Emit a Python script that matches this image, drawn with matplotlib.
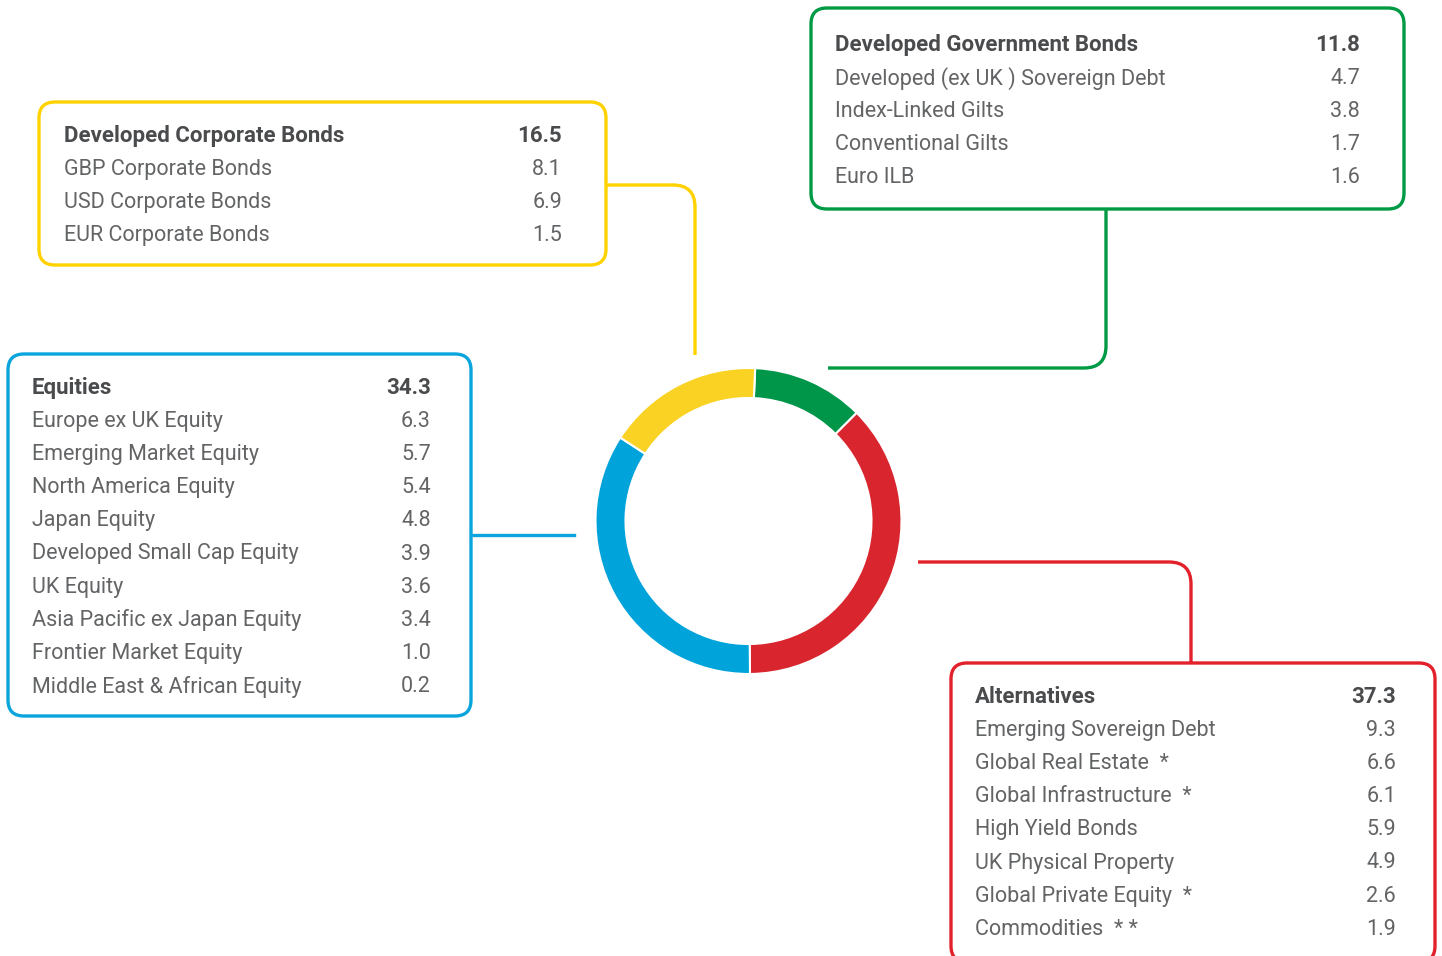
import matplotlib.pyplot as plt
from matplotlib.patches import FancyBboxPatch, PathPatch
from matplotlib.path import Path

plt.rcParams['font.family'] = ['Roboto', 'DejaVu Sans']

W, H = 1442, 956

# asset class totals (donut, clockwise from top)
groups = ["Developed Government Bonds", "Alternatives", "Equities", "Developed Corporate Bonds"]
totals = [11.8, 37.3, 34.3, 16.5]
colors = ["#009649", "#D9262E", "#00A3DA", "#F9D223"]
line_colors = ["#009A44", "#E3212B", "#0AA5DC", "#FFD200"]

gov_names = ["Developed (ex UK ) Sovereign Debt", "Index-Linked Gilts", "Conventional Gilts", "Euro ILB"]
gov_vals = [4.7, 3.8, 1.7, 1.6]

alt_names = ["Emerging Sovereign Debt", "Global Real Estate  *", "Global Infrastructure  *",
             "High Yield Bonds", "UK Physical Property", "Global Private Equity  *", "Commodities  * *"]
alt_vals = [9.3, 6.6, 6.1, 5.9, 4.9, 2.6, 1.9]

eq_names = ["Europe ex UK Equity", "Emerging Market Equity", "North America Equity", "Japan Equity",
            "Developed Small Cap Equity", "UK Equity", "Asia Pacific ex Japan Equity",
            "Frontier Market Equity", "Middle East & African Equity"]
eq_vals = [6.3, 5.7, 5.4, 4.8, 3.9, 3.6, 3.4, 1.0, 0.2]

corp_names = ["GBP Corporate Bonds", "USD Corporate Bonds", "EUR Corporate Bonds"]
corp_vals = [8.1, 6.9, 1.5]

text_col = "#636466"
head_col = "#4A4B4D"


def fy(y):
    return H - y


fig = plt.figure(figsize=(W / 100, H / 100), dpi=100)
ax = fig.add_axes([0, 0, 1, 1])

# donut
ax.pie(totals, colors=colors, startangle=87.5, counterclock=False,
       center=(748.5, fy(521)), radius=153,
       wedgeprops=dict(width=30, edgecolor="white", linewidth=1.5))


def box(x0, y0, x1, y1, color):
    p = FancyBboxPatch((x0, fy(y1)), x1 - x0, y1 - y0,
                       boxstyle="round,pad=0,rounding_size=16",
                       fc="none", ec=color, lw=2.4, zorder=3)
    ax.add_patch(p)


def connector(pts, color):
    # pts: start, corner, end (image coords); corner gets rounded
    (xa, ya), (xc, yc), (xb, yb) = pts
    r = 22
    def toward(p, q, d):
        dx, dy = q[0] - p[0], q[1] - p[1]
        n = (dx ** 2 + dy ** 2) ** 0.5
        return (p[0] + dx / n * d, p[1] + dy / n * d)
    c1 = toward((xc, yc), (xa, ya), r)
    c2 = toward((xc, yc), (xb, yb), r)
    verts = [(xa, ya), c1, (xc, yc), c2, (xb, yb)]
    verts = [(x, fy(y)) for x, y in verts]
    codes = [Path.MOVETO, Path.LINETO, Path.CURVE3, Path.CURVE3, Path.LINETO]
    ax.add_patch(PathPatch(Path(verts, codes), fc="none", ec=color, lw=2.4, zorder=2))


def table(x_text, x_val, y_top, head, total, names, vals):
    ax.text(x_text, fy(y_top + 2), head, fontsize=16, fontweight="bold", color=head_col,
            ha="left", va="center")
    ax.text(x_val, fy(y_top + 2), f"{total:.1f}", fontsize=16, fontweight="bold", color=head_col,
            ha="right", va="center")
    for i, (n, v) in enumerate(zip(names, vals)):
        y = y_top + 2 + 33.2 * (i + 1)
        ax.text(x_text, fy(y), n, fontsize=15.5, color=text_col, ha="left", va="center")
        ax.text(x_val, fy(y), f"{v:.1f}", fontsize=15.5, color=text_col, ha="right", va="center")


# Developed Government Bonds
box(811, 8, 1404, 209, line_colors[0])
connector([(1106, 209), (1106, 368), (828, 368)], line_colors[0])
table(835, 1360, 43, groups[0], totals[0], gov_names, gov_vals)

# Alternatives
box(951, 663, 1435, 962, line_colors[1])
connector([(918, 562), (1191, 562), (1191, 663)], line_colors[1])
table(975, 1396, 695, groups[1], totals[1], alt_names, alt_vals)

# Equities
box(8, 354, 471, 716, line_colors[2])
ax.plot([471, 574], [fy(535), fy(535)], color=line_colors[2], lw=2.4)
table(32, 431, 386, groups[2], totals[2], eq_names, eq_vals)

# Developed Corporate Bonds
box(39, 102, 606, 265, line_colors[3])
connector([(606, 185), (695, 185), (695, 355)], line_colors[3])
table(64, 562, 134, groups[3], totals[3], corp_names, corp_vals)

ax.set_xlim(0, W)
ax.set_ylim(0, H)
ax.set_aspect("equal")
ax.axis("off")

plt.savefig("out.png", dpi=100)
